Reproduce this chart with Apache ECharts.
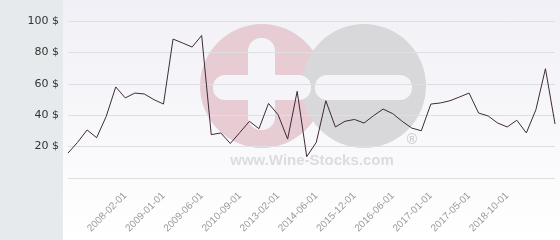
<!DOCTYPE html>
<html>
<head>
<meta charset="utf-8">
<script src="https://cdn.jsdelivr.net/npm/echarts@6/dist/echarts.min.js"></script>
<style>
  html, body { margin: 0; padding: 0; }
  #chart {
    width: 560px; height: 240px;
    background:
      linear-gradient(to right, #e6eaed 0, #e6eaed 63px, transparent 63px),
      linear-gradient(to bottom, #f0f0f6 0%, #ffffff 100%);
  }
</style>
</head>
<body>
<div id="chart"></div>
<script>
const categories = [
  '2007-05-01','2007-07-01','2007-09-01','2007-10-01','2007-11-01','2008-01-01',
  '2008-02-01','2008-04-01','2008-06-01','2008-09-01','2009-01-01','2009-02-01',
  '2009-03-01','2009-05-01','2009-06-01','2009-09-01','2009-12-01','2010-03-01',
  '2010-09-01','2011-03-01','2011-09-01','2012-06-01','2013-02-01','2013-06-01',
  '2013-10-01','2014-02-01','2014-06-01','2014-11-01','2015-03-01','2015-07-01',
  '2015-12-01','2016-02-01','2016-03-01','2016-05-01','2016-06-01','2016-08-01',
  '2016-10-01','2016-12-01','2017-01-01','2017-02-01','2017-03-01','2017-04-01',
  '2017-05-01','2017-09-01','2018-01-01','2018-06-01','2018-10-01','2019-02-01',
  '2019-06-01','2019-10-01','2020-02-01','2020-06-01'
];
const prices = [
  15.9, 22.7, 30.6, 25.7, 39.2, 58.0, 51.0, 54.1, 53.5, 49.9, 47.1, 88.5,
  86.0, 83.4, 90.8, 27.6, 28.7, 22.0, 29.0, 36.1, 31.4, 47.5, 40.3, 24.8,
  55.2, 13.6, 22.7, 49.2, 32.5, 36.1, 37.3, 35.0, 39.7, 43.9, 41.0, 36.1,
  31.8, 30.1, 47.1, 47.8, 49.2, 51.6, 54.1, 41.4, 39.5, 35.0, 32.5, 36.8,
  28.7, 43.5, 69.6, 34.4
];
const shownLabels = [
  '2008-02-01','2009-01-01','2009-06-01','2010-09-01','2013-02-01','2014-06-01',
  '2015-12-01','2016-06-01','2017-01-01','2017-05-01','2018-10-01'
];
const yMin = 0, yMax = 100, yStep = 20;
const currency = '$';
const watermarkText = 'www.Wine-Stocks.com';

const chart = echarts.init(document.getElementById('chart'), null, { renderer: 'canvas' });
chart.setOption({
  backgroundColor: 'transparent',
  animation: false,
  grid: { left: 68, right: 5, top: 21, bottom: 62, containLabel: false },
  graphic: {
    elements: [
      { type: 'circle', z: -10, shape: { cx: 262, cy: 86, r: 62 }, style: { fill: '#e7ccd3' } },
      { type: 'circle', z: -9, shape: { cx: 364, cy: 86, r: 62 }, style: { fill: '#d8d8da' } },
      { type: 'rect', z: -8, shape: { x: 248, y: 38, width: 27, height: 92, r: 13 }, style: { fill: '#f5f5f9' } },
      { type: 'rect', z: -8, shape: { x: 213, y: 75, width: 98, height: 25, r: 12 }, style: { fill: '#f5f5f9' } },
      { type: 'rect', z: -8, shape: { x: 315, y: 75, width: 97, height: 25, r: 12 }, style: { fill: '#f5f5f9' } },
      { type: 'text', z: -8, x: 312, y: 161, style: { text: watermarkText, fill: '#dcdcde', font: 'bold 15px "Liberation Sans", Arial, sans-serif', textAlign: 'center', textVerticalAlign: 'middle' } },
      { type: 'text', z: -8, x: 412, y: 140, style: { text: '\u00AE', fill: '#d0d0d2', font: 'bold 14px "Liberation Sans", Arial, sans-serif', textAlign: 'center', textVerticalAlign: 'middle' } }
    ]
  },
  xAxis: {
    type: 'category',
    data: categories,
    boundaryGap: false,
    axisLine: { show: false },
    axisTick: { show: false },
    splitLine: { show: false },
    axisLabel: {
      rotate: 45,
      margin: 16,
      color: '#9a9a9a',
      fontSize: 10,
      fontFamily: '"Liberation Sans", Arial, sans-serif',
      interval: (idx, val) => shownLabels.indexOf(val) !== -1
    }
  },
  yAxis: {
    type: 'value',
    min: yMin, max: yMax, interval: yStep,
    axisLine: { show: false },
    axisTick: { show: false },
    splitLine: { show: true, lineStyle: { color: '#dfdfe2', width: 1 } },
    axisLabel: {
      margin: 9,
      color: '#333333',
      fontSize: 11,
      fontFamily: '"DejaVu Sans", sans-serif',
      formatter: v => v === 0 ? '' : v + ' ' + currency
    }
  },
  series: [{
    type: 'line',
    data: prices,
    showSymbol: false,
    symbol: 'none',
    lineStyle: { color: '#3d2a36', width: 1 },
    z: 5
  }]
});
</script>
</body>
</html>
